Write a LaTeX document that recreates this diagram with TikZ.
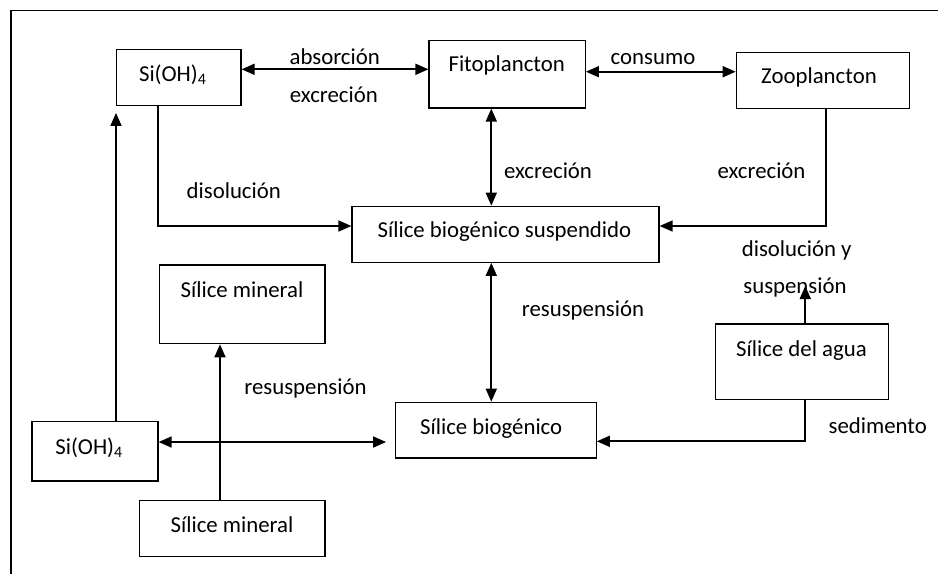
\documentclass[tikz,border=0pt]{standalone}
\usepackage{fontspec}
\setmainfont{Carlito}
\usetikzlibrary{arrows.meta,fit}

\begin{document}
\begin{tikzpicture}[x=0.5pt,y=-0.5pt,
  box/.style={draw, line width=0.6pt, inner sep=0pt, fit={#1}},
  txt/.style={anchor=base, inner sep=0pt, font=\fontsize{11.4}{13.7}\selectfont},
  flow/.style={line width=0.85pt, -{Triangle[length=6.5pt,width=5.5pt]}},
  both/.style={line width=0.85pt, {Triangle[length=6.5pt,width=5.5pt]}-{Triangle[length=6.5pt,width=5.5pt]}},
  frame/.style={line width=0.65pt}]

\useasboundingbox (0,0) rectangle (938,574);

% open frame: left and top sides only
\coordinate (fbl) at (11,574);
\coordinate (ftl) at (11,10.3);
\coordinate (ftr) at (938,10.3);
\draw[frame] (fbl) -- (ftl) -- (ftr);

% boxes
\node[box={(116.7,49.7) (241,105.3)}] (si1) {};
\node[box={(429,40.7) (585.3,108)}] (fito) {};
\node[box={(736.3,52.3) (909.7,108.3)}] (zoo) {};
\node[box={(352,206.3) (659,262.3)}] (sbs) {};
\node[box={(159.7,265) (325,343.7)}] (min1) {};
\node[box={(32,421.7) (158,481)}] (si2) {};
\node[box={(139.7,500.3) (325,556.3)}] (min2) {};
\node[box={(395.7,402.3) (596.3,458)}] (sb) {};
\node[box={(715.3,324) (888.7,399.7)}] (agua) {};

% box texts
\node[txt] (si1t) at (173,81.7) {Si(OH)\textsubscript{4}};
\node[txt] (fitot) at (506.7,71.7) {Fitoplancton};
\node[txt] (zoot) at (819,83.3) {Zooplancton};
\node[txt] (sbst) at (504.5,237.3) {Sílice biogénico suspendido};
\node[txt] (min1t) at (242,297.7) {Sílice mineral};
\node[txt] (si2t) at (89.3,454.7) {Si(OH)\textsubscript{4}};
\node[txt] (min2t) at (232,532.3) {Sílice mineral};
\node[txt] (sbt) at (491.2,434) {Sílice biogénico};
\node[txt] (aguat) at (801.5,356.3) {Sílice del agua};

% connector labels
\node[txt] (l1) at (334.7,64) {absorción};
\node[txt] (l2) at (333.8,102.7) {excreción};
\node[txt] (l3) at (653,64) {consumo};
\node[txt] (l4) at (548,178.3) {excreción};
\node[txt] (l5) at (761.5,178.3) {excreción};
\node[txt] (l6) at (233.8,198.3) {disolución};
\node[txt] (l7) at (796.7,256.7) {disolución y};
\node[txt] (l8) at (795,293.3) {suspensión};
\node[txt] (l9) at (305.5,394) {resuspensión};
\node[txt] (l10) at (583,316.3) {resuspensión};
\node[txt] (l11) at (877.7,433) {sedimento};

% connectors
\draw[both] (si1.east |- 0,69.3) -- (fito.west |- 0,69.3);
\draw[both] (fito.east |- 0,71.7) -- (zoo.west |- 0,71.7);
\draw[both] (fito.south -| 491.3,0) -- (sbs.north -| 491.3,0);
\draw[flow] (zoo.south -| 826.3,0) |- (sbs.east |- 0,226);
\draw[flow] (si1.south -| 157.7,0) |- (sbs.west |- 0,226);
\draw[flow, shorten >=3.5pt] (si2.north -| 116,0) -- (si1.south -| 116,0);
\draw[flow] (min2.north -| 220,0) -- (min1.south -| 220,0);
\draw[both, shorten >=4.5pt] (si2.east |- 0,442) -- (sb.west |- 0,442);
\draw[both] (sbs.south -| 491.3,0) -- (sb.north -| 491.3,0);
\coordinate (up) at (805.3,286);
\draw[flow] (agua.north -| 805.3,0) -- (up);
\draw[flow] (agua.south -| 805.3,0) |- (sb.east |- 0,441.3);

\end{tikzpicture}
\end{document}
